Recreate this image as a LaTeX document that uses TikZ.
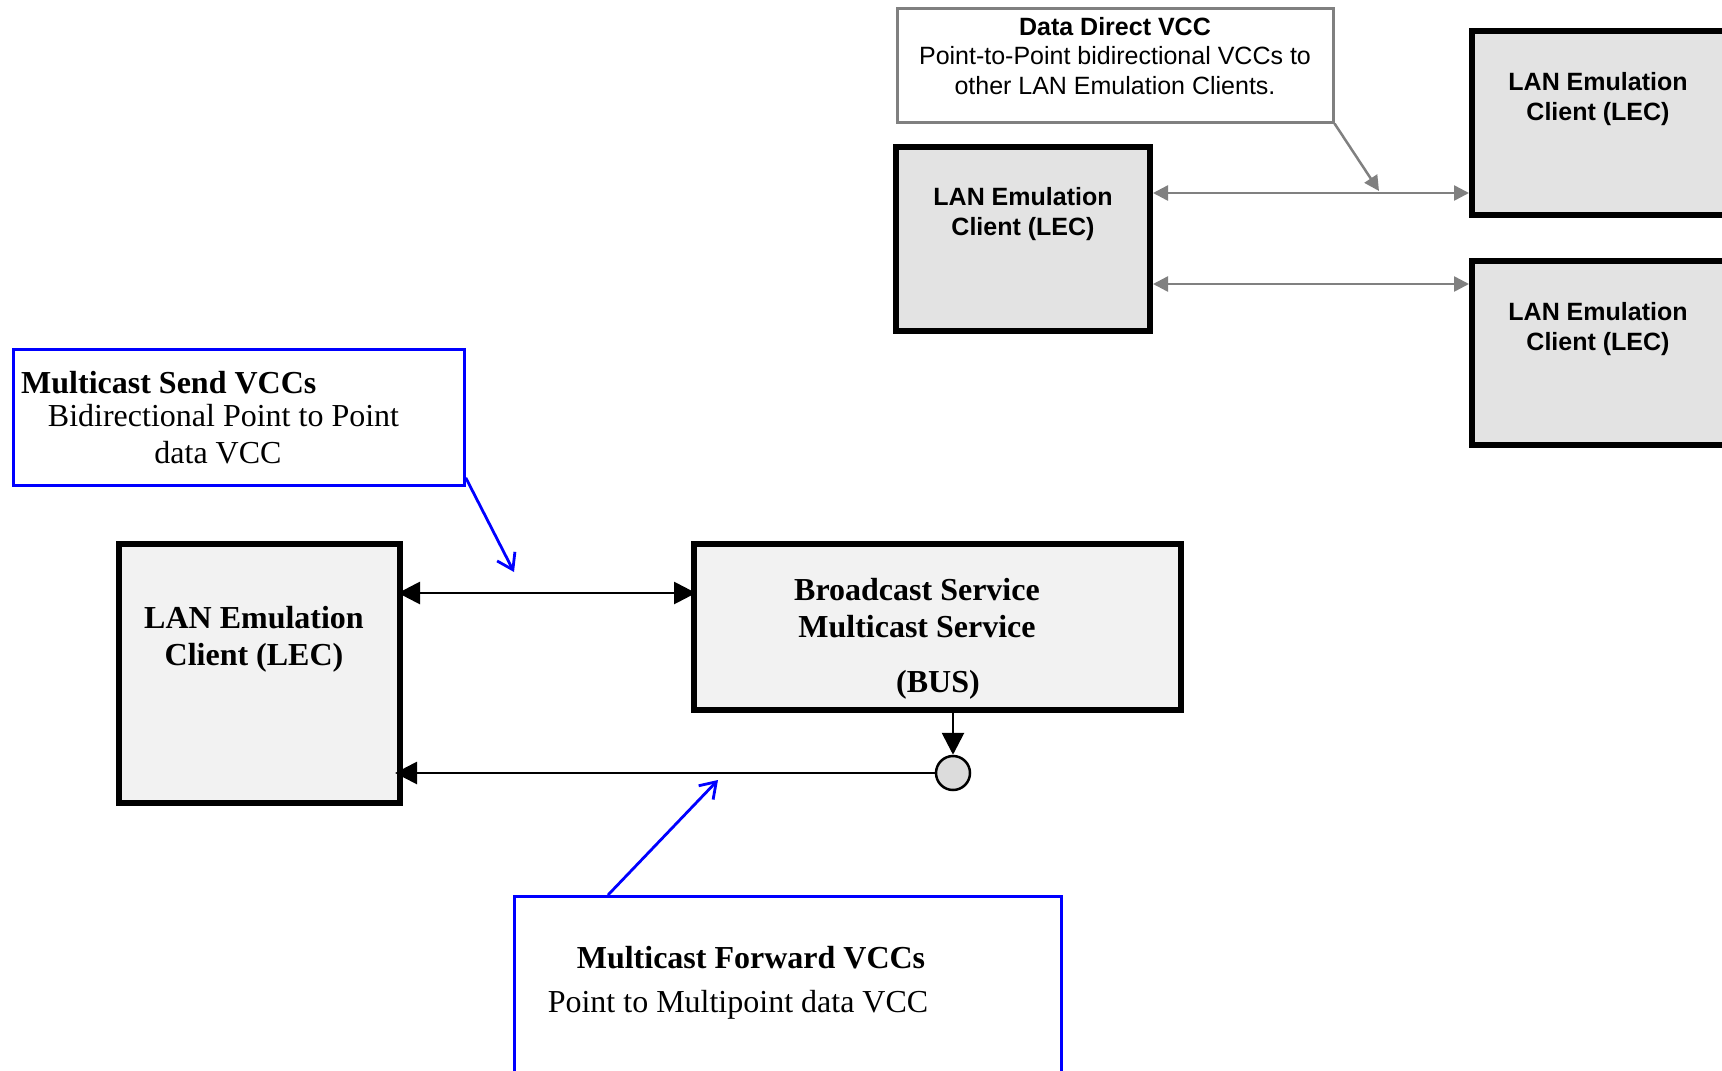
\documentclass[tikz,border=0pt]{standalone}
\usepackage{fontspec}
\setmainfont{Liberation Serif}
\newfontfamily\arialfont{Liberation Sans}
\usepackage{tikz}
\usetikzlibrary{arrows.meta,calc,positioning}
\definecolor{lecgray}{HTML}{E3E3E3}
\definecolor{busgray}{HTML}{F2F2F2}
\definecolor{dotgray}{HTML}{DCDCDC}
\definecolor{linegray}{HTML}{808080}

\begin{document}
\begin{tikzpicture}[x=1pt, y=-1pt,
  lecbox/.style={draw, line width=6pt, fill=lecgray, minimum width=254pt, minimum height=184pt, inner sep=0pt, anchor=north west},
  lowbox/.style={draw, line width=6pt, fill=busgray, inner sep=0pt, anchor=north west},
  notebox/.style={draw=blue, line width=2.8pt, fill=white, inner sep=0pt, anchor=north west},
  sanstxt/.style={font=\arialfont\fontsize{25}{29.5}\selectfont, align=center, inner sep=0pt, anchor=base},
  serifbf/.style={font=\bfseries\fontsize{32}{37}\selectfont, align=center, inner sep=0pt, anchor=base},
  seriftxt/.style={font=\fontsize{32}{37}\selectfont, align=center, inner sep=0pt, anchor=base},
  grayarr/.style={draw=linegray, line width=2.5pt},
  blackarr/.style={draw=black, line width=2.8pt},
  bluearr/.style={draw=blue, line width=2.8pt, -{Straight Barb[length=15pt,width=20pt]}}]
\useasboundingbox (0,0) rectangle (1722,1071);
\clip (0,0) rectangle (1722,1071);
% Data Direct VCC
\node[draw=linegray, line width=2.5pt, fill=white, minimum width=436pt, minimum height=114pt, inner sep=0pt, anchor=north west] (dd) at (896,7) {};
\node[sanstxt] (ddtxt) at (1115,94) {\textbf{Data Direct VCC}\\Point-to-Point bidirectional VCCs to\\other LAN Emulation Clients.};
% client in alto
\node[lecbox] (lecA) at (893,144) {};
\node[sanstxt, font=\arialfont\bfseries\fontsize{25}{30}\selectfont] (lecAtxt) at (1023,235) {LAN Emulation\\Client (LEC)};
\foreach \nome/\y in {lecB/28, lecC/258}{
  \node[lecbox] (\nome) at (1469,\y) {};
  \node[sanstxt, font=\arialfont\bfseries\fontsize{25}{30}\selectfont] (\nome txt) at (1598,\y+92) {LAN Emulation\\Client (LEC)};
}
% VCC dirette tra client
\draw[grayarr, {Triangle[length=15pt,width=15pt]}-{Triangle[length=15pt,width=15pt]}] ([yshift=-49pt]lecA.north east) -- ([yshift=-49pt]lecA.north east -| lecB.west);
\draw[grayarr, {Triangle[length=15pt,width=15pt]}-{Triangle[length=15pt,width=15pt]}] ([yshift=-140pt]lecA.north east) -- ([yshift=-140pt]lecA.north east -| lecC.west);
\coordinate (ddtip) at (1379,191);
\draw[grayarr, -{Triangle[length=15pt,width=15pt]}] (dd.south east) -- (ddtip);
% Multicast Send
\node[notebox, minimum width=451pt, minimum height=136pt] (mss) at (12,348) {};
\node[serifbf, anchor=base west] (msstitle) at (21,393) {Multicast Send VCCs};
\node[seriftxt] (msstxt) at (220.5,463) {Bidirectional Point to Point\hspace*{-6pt}\\data VCC\hspace*{5pt}};
% LEC e BUS
\node[lowbox, minimum width=281pt, minimum height=259pt] (lec) at (116,541) {};
\node[serifbf] (lectxt) at (254,665) {LAN Emulation\\Client (LEC)};
\node[lowbox, minimum width=487pt, minimum height=166pt] (bus) at (691,541) {};
\node[serifbf] (bustxt) at (917,637) {Broadcast Service\\Multicast Service};
\node[serifbf] (buslbl) at (938,692) {(BUS)};
\node[circle, draw, line width=2.5pt, fill=dotgray, minimum size=34pt, inner sep=0pt] (dot) at (953,773) {};
\draw[blackarr, {Triangle[length=22pt,width=22pt]}-{Triangle[length=22pt,width=22pt]}] ([yshift=-52pt,xshift=-5pt]lec.north east) coordinate (sendL) -- ([xshift=5pt]sendL -| bus.west);
\draw[blackarr, -{Triangle[length=22pt,width=22pt]}] (dot.north |- bus.south) -- (dot.north);
\draw[blackarr, -{Triangle[length=22pt,width=22pt]}] (dot.west) -- ([xshift=-8pt]dot.west -| lec.east);
% callout blu
\coordinate (sendtip) at (514,572);
\draw[bluearr] ([yshift=9pt]mss.south east) -- (sendtip);
\node[notebox, minimum width=547pt, minimum height=250pt] (mfw) at (513,895) {};
\node[seriftxt] (mfwtxt) at (738,1012) {\textbf{Multicast Forward VCCs}\hspace*{-26pt}\\[7pt]Point to Multipoint data VCC};
\coordinate (fwdtip) at (718,780);
\draw[bluearr] ([xshift=95pt]mfw.north west) -- (fwdtip);
\end{tikzpicture}
\end{document}
